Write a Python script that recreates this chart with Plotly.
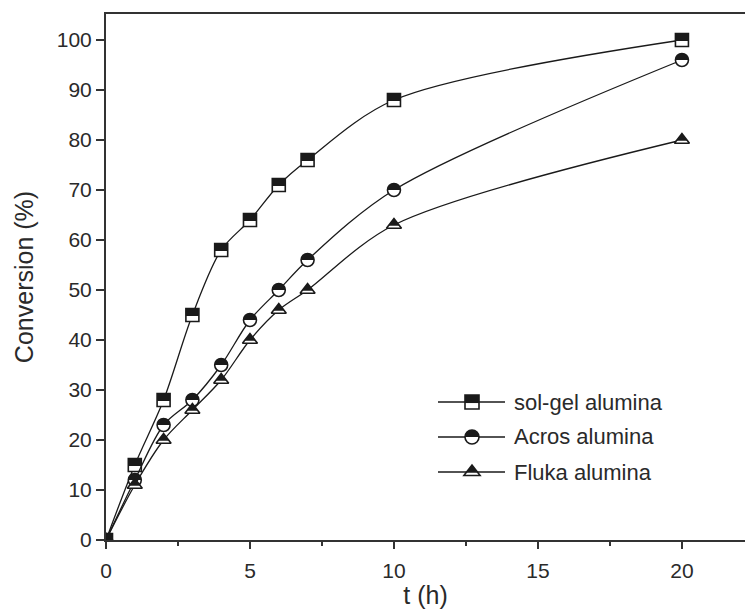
import plotly.graph_objects as go

# Reaction time (h) and conversion (%) for three alumina catalysts
t_hours = [0, 1, 2, 3, 4, 5, 6, 7, 10, 20]
solgel = [0, 15, 28, 45, 58, 64, 71, 76, 88, 100]
acros = [0, 12, 23, 28, 35, 44, 50, 56, 70, 96]
fluka = [0, 11, 20, 26, 32, 40, 46, 50, 63, 80]

series_names = ["sol-gel alumina", "Acros alumina", "Fluka alumina"]
series_values = [solgel, acros, fluka]
symbols = ["square", "circle", "triangle-up"]

W, H = 745, 609
ML, MR, MT, MB = 106, 0, 14, 69
INK = "#1a1a1a"
TXT = "#2a2a2a"
FONT = "Liberation Sans, Arial, sans-serif"

fig = go.Figure()

MSIZE = 13
for name, vals, sym in zip(series_names, series_values, symbols):
    fig.add_trace(go.Scatter(
        x=t_hours, y=vals, name=name, mode="lines+markers",
        line=dict(color=INK, width=1.3, shape="spline", smoothing=0.9),
        marker=dict(symbol=sym, size=MSIZE, color="white",
                    line=dict(color=INK, width=1.6)),
        cliponaxis=True, showlegend=False,
    ))


def half_fill(sym, r):
    """Path (pixel units, y up) of the filled upper half of a marker."""
    if sym == "square":
        return f"M {-r},{-0.15*r} L {r},{-0.15*r} L {r},{r} L {-r},{r} Z"
    if sym == "circle":
        k = 0.5523 * r
        return (f"M {-r},0 C {-r},{k} {-k},{r} 0,{r} "
                f"C {k},{r} {r},{k} {r},0 Z")
    # triangle-up: apex r above centre, base r/2 below centre
    rt = r * 2 / 3 ** 0.5
    y0 = -0.1 * r
    w = rt * (r - y0) / (1.5 * r)
    return f"M {-w},{y0} L {w},{y0} L 0,{r} Z"


shapes = []
for vals, sym in zip(series_values, symbols):
    r = MSIZE / 2
    for tx, v in zip(t_hours, vals):
        shapes.append(dict(
            type="path", xref="x", yref="y",
            xsizemode="pixel", ysizemode="pixel",
            xanchor=tx, yanchor=v,
            path=half_fill(sym, r),
            fillcolor=INK, line=dict(width=0), layer="above",
        ))

# Key drawn inside the plot area
PW, PH = W - ML - MR, H - MT - MB


def px_x(px):
    return (px - ML) / PW


def px_y(py):
    return (H - MB - py) / PH


key_rows = [402, 437, 472]
annotations = []
for name, sym, py in zip(series_names, symbols, key_rows):
    yy = px_y(py)
    shapes.append(dict(type="line", xref="paper", yref="paper",
                       x0=px_x(438), x1=px_x(505), y0=yy, y1=yy,
                       line=dict(color=INK, width=1.3), layer="above"))
    r = 7
    if sym == "square":
        outline = f"M {-r},{-r} L {r},{-r} L {r},{r} L {-r},{r} Z"
    elif sym == "circle":
        k = 0.5523 * r
        outline = (f"M {-r},0 C {-r},{k} {-k},{r} 0,{r} C {k},{r} {r},{k} {r},0 "
                   f"C {r},{-k} {k},{-r} 0,{-r} C {-k},{-r} {-r},{-k} {-r},0 Z")
    else:
        rt = r * 2 / 3 ** 0.5
        outline = f"M {-rt},{-r/2} L {rt},{-r/2} L 0,{r} Z"
    shapes.append(dict(type="path", xref="paper", yref="paper",
                       xsizemode="pixel", ysizemode="pixel",
                       xanchor=px_x(472), yanchor=yy, path=outline,
                       fillcolor="white", line=dict(color=INK, width=1.6),
                       layer="above"))
    shapes.append(dict(type="path", xref="paper", yref="paper",
                       xsizemode="pixel", ysizemode="pixel",
                       xanchor=px_x(472), yanchor=yy, path=half_fill(sym, r),
                       fillcolor=INK, line=dict(width=0), layer="above"))
    annotations.append(dict(xref="paper", yref="paper", x=px_x(512), y=yy,
                            xanchor="left", yanchor="middle", text=name,
                            showarrow=False,
                            font=dict(family=FONT, size=22, color=TXT)))

axis_common = dict(
    showline=True, linecolor="#333", linewidth=2,
    ticks="outside", tickcolor="#333", tickwidth=1.5,
    showgrid=False, zeroline=False,
    tickfont=dict(family=FONT, size=21, color=TXT),
)

fig.update_layout(
    width=W, height=H,
    margin=dict(l=ML, r=MR, t=MT, b=MB),
    paper_bgcolor="white", plot_bgcolor="white",
    shapes=shapes, annotations=annotations,
    xaxis=dict(range=[0, 22.19], tickvals=[0, 5, 10, 15, 20], ticklen=7,
               mirror=True, ticklabelstandoff=4,
               minor=dict(dtick=2.5, tick0=0, ticks="outside", ticklen=4,
                          tickcolor="#333", tickwidth=1.5),
               title=dict(text="t (h)", standoff=1,
                          font=dict(family=FONT, size=25, color=TXT)),
               **axis_common),
    yaxis=dict(range=[0, 105.2], dtick=10, ticklen=8,
               title=dict(text="Conversion (%)", standoff=16,
                          font=dict(family=FONT, size=25, color=TXT)),
               **axis_common),
)

fig.write_html("out.html")
